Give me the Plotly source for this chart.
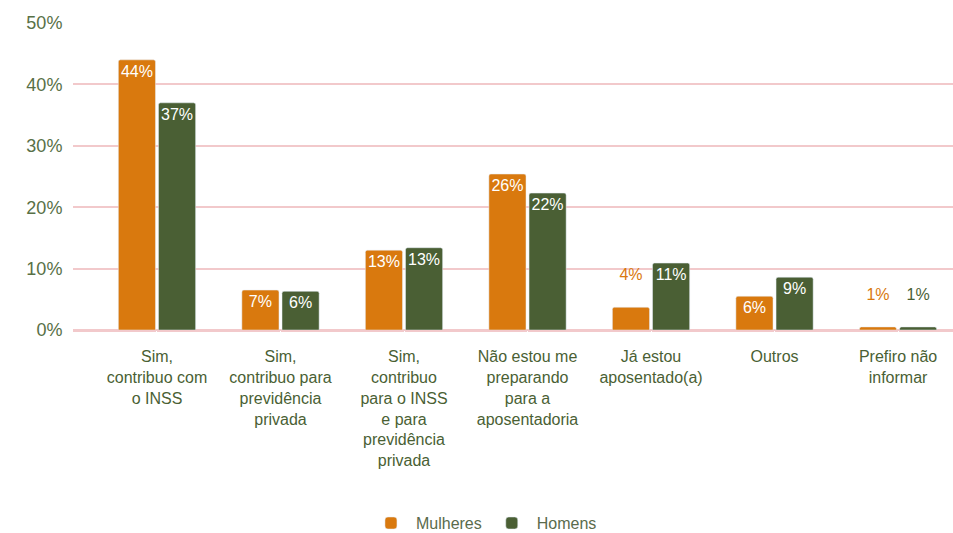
import plotly.graph_objects as go

categories = [
    "Sim,<br>contribuo com<br>o INSS",
    "Sim,<br>contribuo para<br>previdência<br>privada",
    "Sim,<br>contribuo<br>para o INSS<br>e para<br>previdência<br>privada",
    "Não estou me<br>preparando<br>para a<br>aposentadoria",
    "Já estou<br>aposentado(a)",
    "Outros",
    "Prefiro não<br>informar",
]
mulheres = [44.0, 6.5, 13.0, 25.4, 3.7, 5.5, 0.5]
homens = [37.0, 6.3, 13.4, 22.3, 10.9, 8.6, 0.5]
mulheres_labels = ["44%", "7%", "13%", "26%", "4%", "6%", "1%"]
homens_labels = ["37%", "6%", "13%", "22%", "11%", "9%", "1%"]
tick_vals = [0, 10, 20, 30, 40, 50]
tick_text = ["0%", "10%", "20%", "30%", "40%", "50%"]

ORANGE = "#D9790E"
GREEN = "#4A5F34"
FONT = "Liberation Sans, Arial, sans-serif"


def positions(vals):
    return ["outside" if v < 5 else "inside" for v in vals]


fig = go.Figure()
for name, vals, labels, color in [
    ("Mulheres", mulheres, mulheres_labels, ORANGE),
    ("Homens", homens, homens_labels, GREEN),
]:
    pos = positions(vals)
    texts = [lab + "<br> " if p == "outside" else lab for lab, p in zip(labels, pos)]
    fig.add_trace(go.Bar(
        name=name, x=categories, y=vals, text=texts,
        textposition=pos,
        insidetextanchor="end",
        textangle=0,
        insidetextfont=dict(color="white", size=16, family=FONT),
        outsidetextfont=dict(color=color, size=16, family=FONT),
        marker=dict(color=color),
        cliponaxis=False,
    ))

fig.update_layout(
    width=953, height=533,
    margin=dict(l=73, r=0, t=23, b=203, autoexpand=False),
    barmode="group", bargap=0.35, bargroupgap=0.075,
    barcornerradius=2,
    plot_bgcolor="white", paper_bgcolor="white",
    font=dict(family=FONT, color=GREEN),
    uniformtext=dict(minsize=16, mode="show"),
    legend=dict(orientation="h", x=0.467, xanchor="center", y=-0.629, yanchor="middle",
                font=dict(size=16, color="#5a6b4c", family=FONT), itemwidth=40),
    showlegend=True,
)
fig.update_yaxes(range=[0, 50], tickvals=tick_vals, ticktext=tick_text,
                 gridcolor="#F2C9CB", gridwidth=1.5, zeroline=True,
                 zerolinecolor="#F2C9CB", zerolinewidth=3,
                 tickfont=dict(size=18, color="#587046"), ticklen=6,
                 ticks="outside", tickcolor="white", automargin=False)
fig.update_xaxes(range=[-0.68, 6.445],
                 tickfont=dict(size=16, color=GREEN),
                 ticks="outside", ticklen=12, tickcolor="white",
                 showline=False, automargin=False)

fig.write_html("out.html", config={"displayModeBar": False},
               post_script="document.body.style.margin='0';")
